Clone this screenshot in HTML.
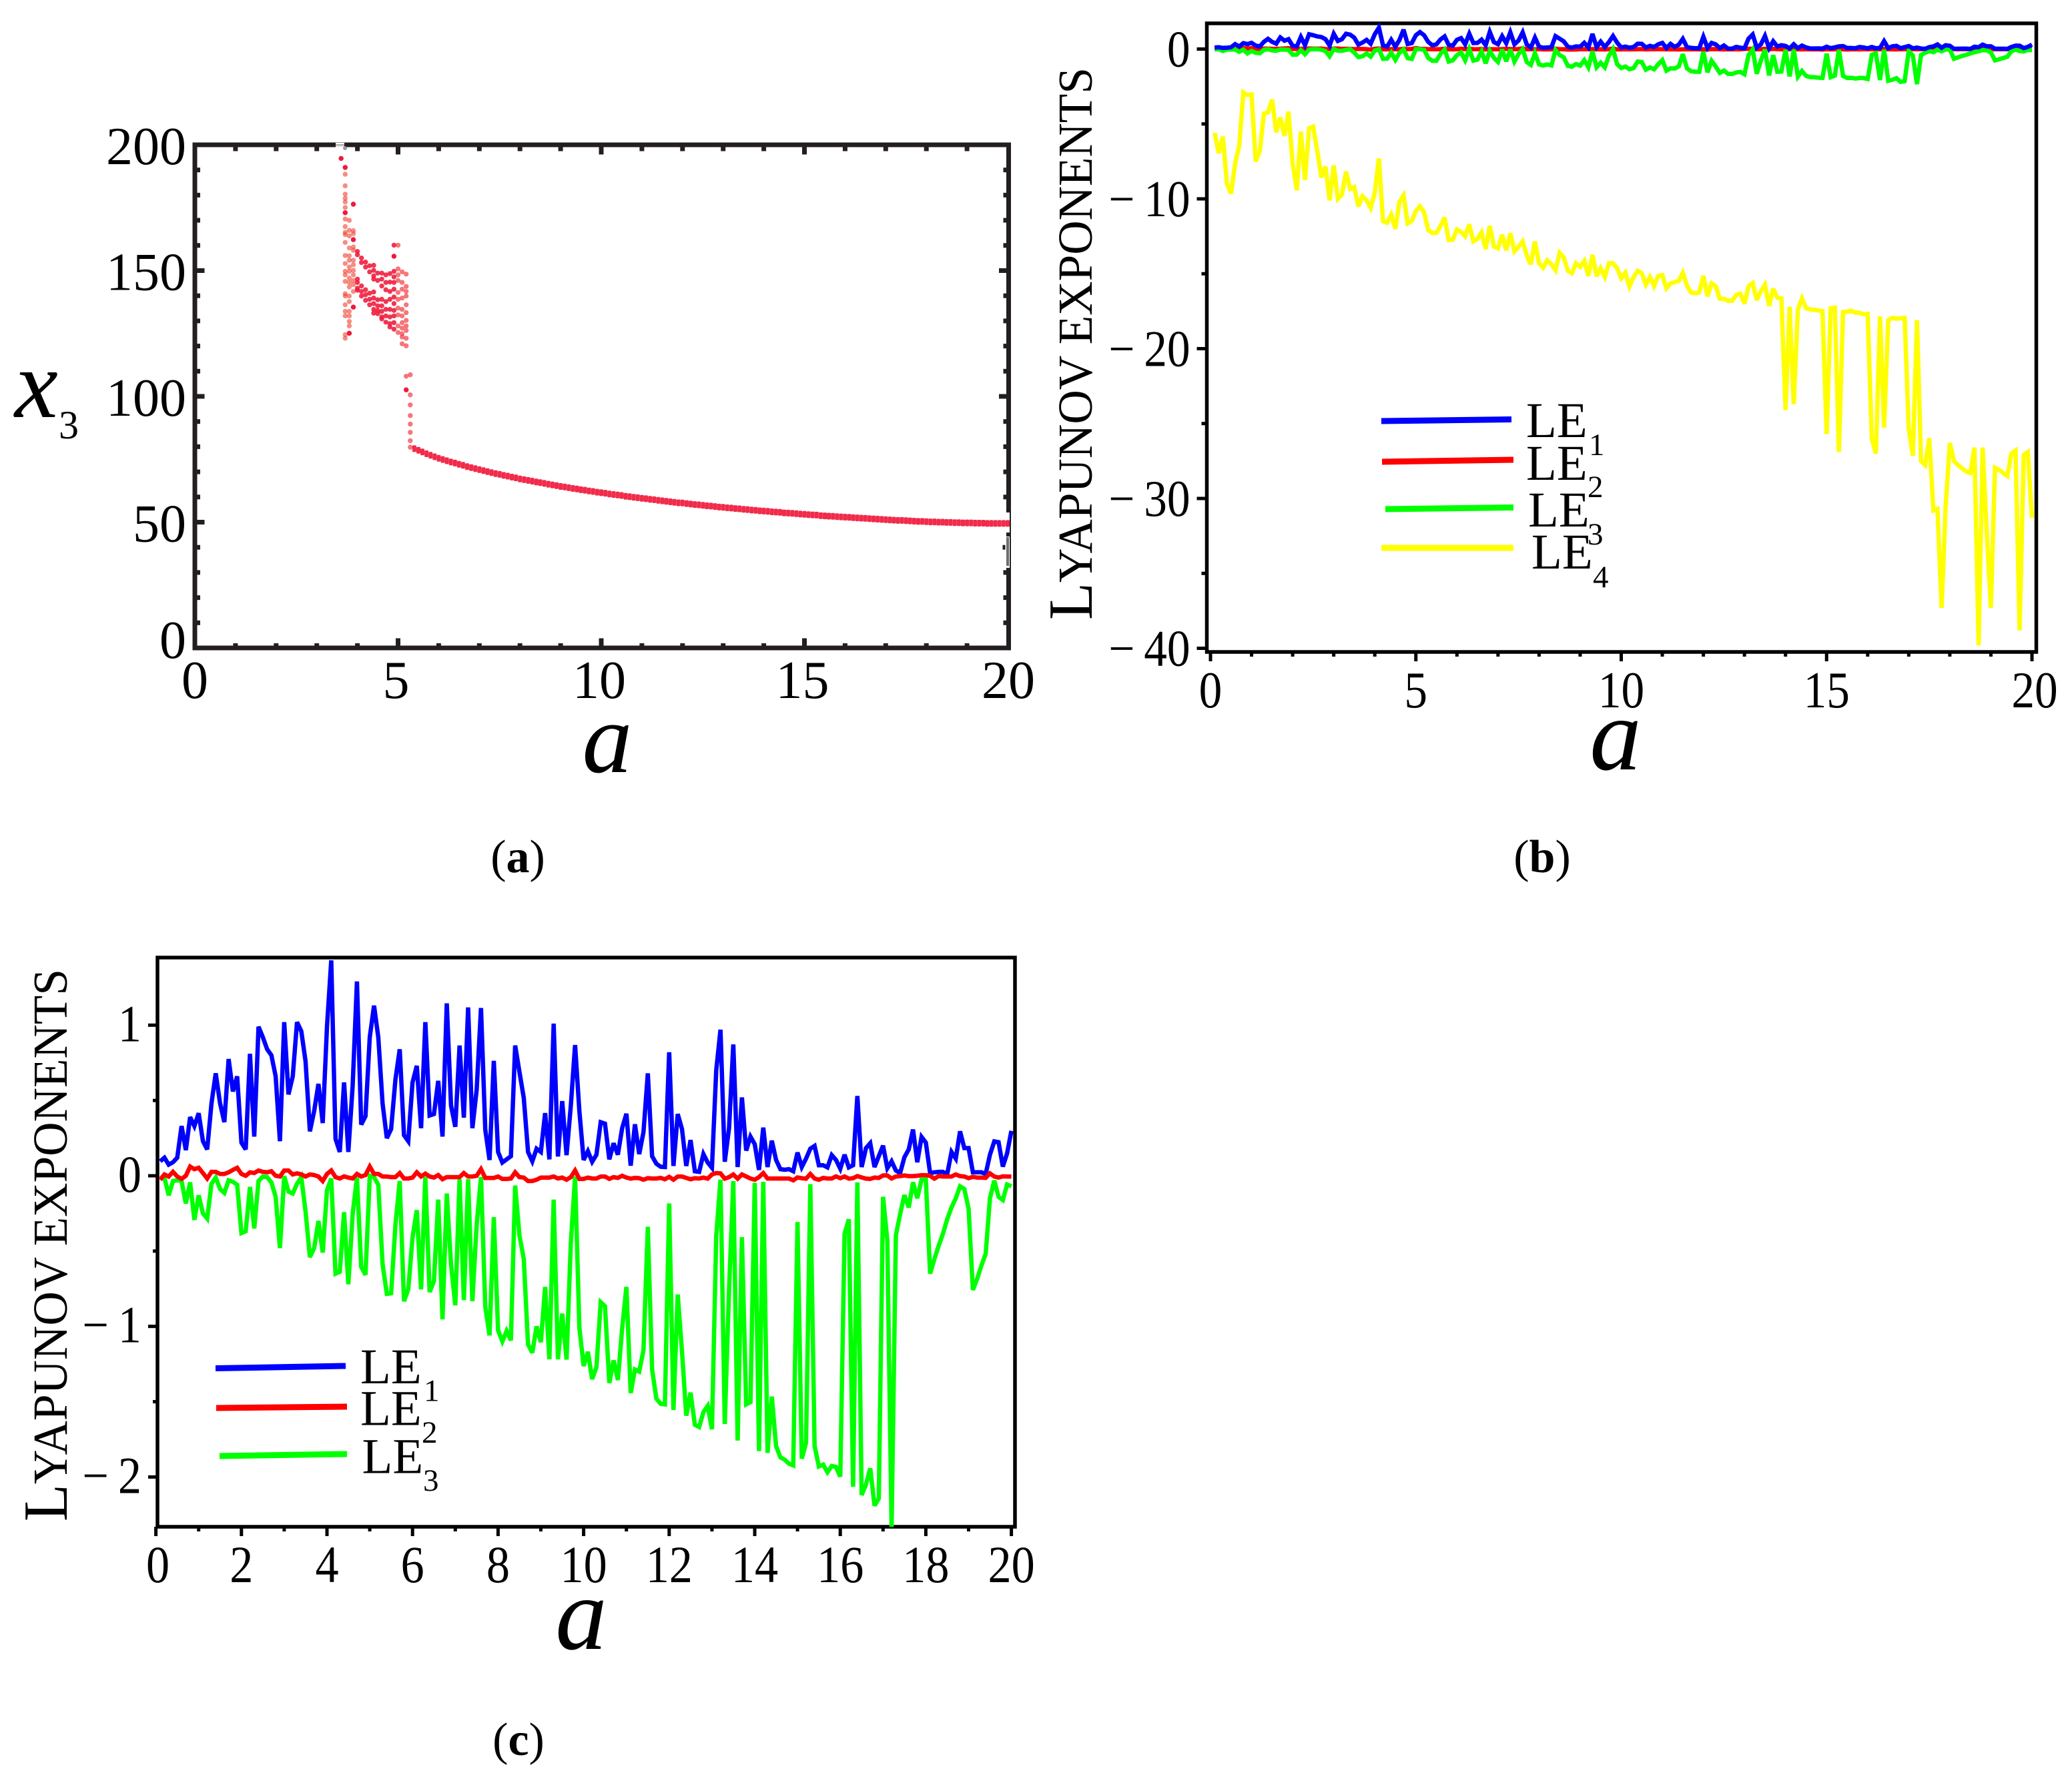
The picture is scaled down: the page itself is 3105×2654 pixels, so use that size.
<!DOCTYPE html>
<html lang="en">
<head>
<meta charset="utf-8">
<title>Bifurcation diagram and Lyapunov exponents</title>
<style>
html,body{margin:0;padding:0;background:#fff;}
svg{display:block;font-family:"Liberation Serif","Noto Serif CJK SC",serif;}
text{fill:#000;}
</style>
</head>
<body>
<svg id="figure" xmlns="http://www.w3.org/2000/svg" width="3105" height="2654" viewBox="0 0 3105 2654">
<rect x="0" y="0" width="3105" height="2654" fill="#fff"/>
<defs><clipPath id="plot-c-clip"><rect x="233" y="1435" width="1288" height="853"/></clipPath></defs>

<g id="panel-a"></g>
<g id="panel-b"></g>
<g id="panel-c"></g>

<!-- Panel (a) titles -->
<text transform="translate(910,1157)" font-size="150" font-style="italic" text-anchor="middle">a</text>
<text x="22" y="625" font-size="146" font-style="italic">x</text>
<text x="88" y="657" font-size="60">3</text>
<text x="776" y="1307" font-size="70" text-anchor="middle">(<tspan font-weight="bold">a</tspan>)</text>

<!-- Panel (b) titles -->
<text transform="translate(2421,1153)" font-size="155" font-style="italic" text-anchor="middle">a</text>
<text transform="translate(1636,929) rotate(-90)" textLength="828" lengthAdjust="spacingAndGlyphs"><tspan font-size="94">L</tspan><tspan font-size="73">YAPUNOV EXPONENTS</tspan></text>
<text x="2311" y="1307" font-size="70" text-anchor="middle">(<tspan font-weight="bold">b</tspan>)</text>

<!-- Panel (b) legend -->
<g>
  <line x1="2070" y1="631" x2="2265" y2="628.5" stroke="#0000ff" stroke-width="9"/>
  <line x1="2071" y1="692" x2="2268" y2="689" stroke="#ff0000" stroke-width="9"/>
  <line x1="2076" y1="763" x2="2268" y2="760.5" stroke="#00ff00" stroke-width="9"/>
  <line x1="2070" y1="821" x2="2268" y2="821" stroke="#ffff00" stroke-width="9"/>
  <text x="2287" y="655" font-size="75">LE</text>
  <text x="2381" y="682" font-size="47">1</text>
  <text x="2287" y="719" font-size="75">LE</text>
  <text x="2379" y="745" font-size="47">2</text>
  <text x="2290" y="789" font-size="75">LE</text>
  <text x="2379" y="816" font-size="47">3</text>
  <text x="2295" y="852" font-size="75">LE</text>
  <text x="2387" y="880" font-size="47">4</text>
</g>

<!-- Panel (c) titles -->
<text transform="translate(871,2471)" font-size="155" font-style="italic" text-anchor="middle">a</text>
<text transform="translate(100,2280) rotate(-90)" textLength="828" lengthAdjust="spacingAndGlyphs"><tspan font-size="94">L</tspan><tspan font-size="73">YAPUNOV EXPONENTS</tspan></text>
<text x="777" y="2630" font-size="70" text-anchor="middle">(<tspan font-weight="bold">c</tspan>)</text>

<!-- Panel (c) legend -->
<g>
  <line x1="323" y1="2050.5" x2="518" y2="2047" stroke="#0000ff" stroke-width="9"/>
  <line x1="324" y1="2110" x2="520" y2="2108" stroke="#ff0000" stroke-width="9"/>
  <line x1="329" y1="2182" x2="520" y2="2179" stroke="#00ff00" stroke-width="9"/>
  <text x="540" y="2073" font-size="75">LE</text>
  <text x="635" y="2099.5" font-size="47">1</text>
  <text x="540" y="2135.5" font-size="75">LE</text>
  <text x="632" y="2162" font-size="47">2</text>
  <text x="542.5" y="2207.5" font-size="75">LE</text>
  <text x="634" y="2234" font-size="47">3</text>
</g>
</svg>

<script>
/* ---------- Panel (a) data: bifurcation diagram ---------- */
var bifurcationA = [3.7,3.8,3.9,4.0,4.1,4.2,4.3,4.4,4.5,4.6,4.7,4.8,4.9,5.0,5.1,5.2,5.3];
var bifurcationX3 = [
 [191,188.3,183.7,180.4,178.7,177.3,175.1,173,170.5,167.5,165.2,164.3,161.2,156,152.8,149.7,148.3,145.7,140.8,139.9,136.4,133.8,132,124.5,123.1],
 [170,166,163.8,159,155.9,154.1,151.4,149.7,147,145.3,143.5,139.9,137.7,133.8,132,129.8,128,125.1],
 [176.4,165.9,164.7,162.3,159.4,158.1,154.1,152.3,150.1,148.3,146.1,144.4,141.7,135.5],
 [157.6,156.3,146.6,145.3,143,142.2],
 [155,153.2,143.9,141.7,139.9],
 [153.4,151.4,142.4,140.4,138.2],
 [151.9,149.5,141,138.6,136.4],
 [152.1,150.1,147.9,146.6,141.5,139.1,136.9,134.6,133.1],
 [149,146.1,138.4,136,134.2,132.9],
 [149,146.6,143.9,138.6,136,133.8,131.6,130.8],
 [148.3,145.3,142.4,137.7,134.6,132,129.5],
 [148.8,145.4,141.7,138.6,134.6,131.6,128.9,127.6],
 [160.1,149.7,147.5,145.3,142.6,139.5,136.9,134.2,132,129.3,126.7],
 [160.1,150.7,148.3,146.1,141.3,138.6,135.1,132.4,128,125.4],
 [149.5,145.3,142.6,139.1,134.6,132,129.3,127.1,124.9,123.6,120.9],
 [108,148.6,143.7,141.7,139.9,136.4,133.3,130.2,128,126.2,123.1,120.1],
 [108.6,100.6,96.6,92.4,89,85.7,82.4,79.8]
];
var isolatedA = [3.6,3.7,3.7,3.8,3.9,3.9,3.9,4.9,5.2];
var isolatedX3 = [194.6,191,173,125.1,176.4,162.3,135.5,155.7,102.6];
var branchStartA = 5.4;
var branchStepA = 0.1;
var branchX3 = [
 79.2,78.6,77.9,77.2,76.6,76.0,75.4,74.9,74.4,73.9,
 73.5,73.0,72.6,72.1,71.7,71.3,70.9,70.5,70.1,69.7,
 69.3,69.0,68.6,68.3,67.9,67.6,67.2,66.9,66.6,66.3,
 66.0,65.7,65.4,65.1,64.8,64.5,64.2,64.0,63.7,63.4,
 63.2,62.9,62.7,62.4,62.2,61.9,61.7,61.5,61.2,61.0,
 60.8,60.6,60.3,60.1,59.9,59.7,59.5,59.3,59.1,58.9,
 58.7,58.5,58.3,58.1,57.9,57.7,57.6,57.4,57.2,57.0,
 56.9,56.7,56.5,56.4,56.2,56.0,55.9,55.7,55.6,55.4,
 55.3,55.1,55.0,54.8,54.7,54.5,54.4,54.3,54.1,54.0,
 53.9,53.7,53.6,53.5,53.4,53.2,53.1,53.0,52.9,52.8,
 52.6,52.5,52.4,52.3,52.2,52.1,52.0,51.9,51.8,51.7,
 51.6,51.5,51.4,51.3,51.2,51.1,51.0,50.9,50.8,50.7,
 50.7,50.6,50.5,50.4,50.3,50.3,50.2,50.1,50.1,50.0,
 50.0,49.9,49.9,49.8,49.8,49.7,49.7,49.7,49.6,49.6,
 49.6,49.5,49.5,49.5,49.5,49.5,49.5
];
var xTicksA = [0,5,10,15,20];
var yTicksA = [0,50,100,150,200];

/* ---------- Panels (b), (c) data: Lyapunov exponents, a = 0.1 ... 20.0 ---------- */
var lyapunovStepA = 0.1;
var le1 = [
 .096,.12,.074,.09,.12,.33,.17,.39,.33,.415,.23,.175,.48,.68,.48,.356,.775,.56,.66,.22,
 .175,.81,.26,.99,.92,.84,.80,.66,.23,1.02,.54,.66,1.02,.96,.76,.295,.43,.61,.35,.99,
 1.43,.245,.158,.62,.158,.6,1.29,.34,.395,.92,1.13,.92,.48,.25,.31,.64,.84,.27,.23,.62,
 .73,.316,1.02,.40,.41,.63,.26,1.145,.465,.325,.865,.386,1.118,.316,.57,1.114,.307,.105,.763,.158,
 .088,.109,.13,.865,.69,.517,.158,.096,.18,.158,.416,.109,1.01,.128,.496,.137,.465,.868,.43,.105,
 .163,.093,.14,.356,.346,.109,.216,.14,.316,.412,.067,.342,.144,.29,.68,.13,.08,.06,.058,.82,
 .065,.41,.31,.065,.237,.03,.026,.144,.088,.053,.70,.97,.093,.316,.872,.058,.52,.167,.26,.21,
 .039,.32,.058,.233,.105,.044,.04,.044,.03,.154,.058,.114,.18,.198,.07,.07,.056,.137,.105,.047,
 .14,.056,.07,.53,.058,.184,.216,.058,.13,.2,.05,.096,.035,.018,.123,.175,.307,.09,.258,.22,
 .018,.023,.026,.026,.01,.158,.114,.295,.184,.184,.023,.023,.023,.012,.14,.228,.223,.061,.149,.298
];
var le2 = [
 -.026,.009,-.005,.026,-.005,-.021,0,.061,.044,.053,.018,-.018,.026,.026,.012,.012,.023,.039,.053,.012,
 0,.023,.018,.035,.026,.023,.03,0,-.005,.035,.035,.009,.016,.009,-.005,.009,.005,-.005,-.035,.012,
 .035,-.009,-.018,-.004,-.012,-.018,.012,-.005,.005,.061,.012,.012,-.005,-.005,-.009,-.009,.018,-.018,-.018,-.012,
 .023,-.005,.014,-.005,-.012,.005,-.023,-.009,-.009,-.009,-.009,.018,-.005,-.005,0,.044,-.014,-.014,-.014,-.005,
 -.021,-.021,-.018,.023,-.009,-.012,-.035,-.035,-.026,-.012,-.012,-.012,-.005,-.018,-.012,-.026,-.009,.035,-.021,-.021,
 -.012,-.018,-.018,-.005,-.005,-.021,-.009,-.014,0,-.012,-.019,-.014,-.016,-.026,-.016,-.018,-.018,-.014,-.023,-.007,
 -.026,-.005,-.005,-.014,-.023,-.016,-.018,-.012,-.019,.009,.018,.016,-.019,-.009,.009,-.019,.009,-.005,-.018,-.026,
 -.009,.018,-.018,-.018,-.018,-.018,-.018,-.018,-.03,-.011,-.016,-.019,.012,-.018,-.026,-.014,-.018,-.018,-.004,-.016,
 -.005,-.019,-.016,-.002,-.011,-.019,-.021,-.012,-.014,.002,.002,-.018,-.005,-.002,.002,-.002,-.002,0,.004,.004,
 0,-.019,-.002,-.005,-.005,-.005,.009,-.002,-.005,-.016,-.007,-.012,-.012,-.014,.016,-.005,-.012,-.004,-.005,-.005
];
var le3 = [
 -.018,-.012,-.13,-.035,-.03,-.035,-.184,-.044,-.293,-.13,-.25,-.284,-.053,-.012,-.088,-.114,-.03,-.04,-.06,-.38,
 -.368,-.074,-.35,-.035,-.005,-.009,-.044,-.14,-.48,-.002,-.105,-.118,-.053,-.009,-.237,-.54,-.48,-.30,-.51,-.096,
 -.018,-.65,-.637,-.242,-.72,-.254,-.012,-.605,-.658,0,-.009,-.06,-.588,-.784,-.78,-.325,-.035,-.833,-.754,-.41,
 -.228,-.754,-.009,-.772,-.70,-.158,-.953,-.118,-.588,-.86,-.023,-.825,-.023,-.833,-.325,-.009,-.868,-1.06,-.275,-1.026,
 -1.1,-1.03,-1.093,-.065,-.395,-.553,-1.12,-1.175,-1.0,-1.105,-.738,-1.218,-.158,-1.218,-.915,-1.22,-.447,-.005,-1.008,-1.263,
 -1.169,-1.35,-1.27,-.839,-.866,-1.376,-1.226,-1.356,-1.016,-.738,-1.443,-1.286,-1.30,-1.158,-.339,-1.286,-1.48,-1.514,-1.518,-.184,
 -1.555,-.788,-1.166,-1.593,-1.44,-1.653,-1.668,-1.57,-1.528,-1.683,-.4,-.026,-1.648,-.76,-.035,-1.758,-.407,-1.518,-1.503,-.047,
 -1.828,-.04,-1.84,-1.466,-1.795,-1.87,-1.885,-1.912,-1.923,-.307,-1.878,-1.773,-.056,-1.795,-1.93,-1.918,-1.968,-1.927,-1.933,-1.998,
 -.386,-.289,-2.065,-.044,-2.12,-2.05,-1.943,-2.19,-2.143,-.14,-.43,-2.34,-.395,-.254,-.128,-.21,-.044,-.149,-.026,-.023,
 -.65,-.553,-.465,-.386,-.289,-.21,-.149,-.07,-.088,-.219,-.758,-.684,-.596,-.518,-.149,-.032,-.14,-.161,-.058,-.07
];
var le4 = [
 -5.59,-6.95,-5.85,-9.0,-9.65,-7.64,-6.44,-2.9,-3.07,-3.03,-7.5,-6.8,-4.31,-4.23,-3.38,-5.56,-4.57,-5.8,-4.18,-7.64,
 -9.43,-5.5,-8.75,-5.28,-5.17,-6.8,-8.57,-7.84,-10.1,-7.77,-10.0,-9.72,-8.18,-9.34,-9.22,-10.5,-9.82,-10.1,-10.6,-9.6,
 -7.3,-11.5,-11.6,-11.05,-12.0,-10.2,-9.77,-11.64,-11.47,-10.8,-10.5,-10.9,-12.07,-12.27,-12.27,-11.8,-11.25,-12.75,-12.72,-12.04,
 -12.2,-12.5,-11.7,-12.84,-12.67,-12.24,-13.35,-11.81,-13.18,-13.3,-12.4,-13.43,-12.3,-13.5,-13.2,-12.84,-13.77,-14.37,-12.84,-14.3,
 -14.6,-14.1,-14.37,-14.76,-13.6,-13.9,-14.8,-14.97,-14.3,-14.54,-14.15,-15.14,-13.74,-15.17,-14.63,-15.22,-14.3,-14.3,-14.63,-15.3,
 -14.93,-15.85,-15.22,-14.8,-14.97,-15.73,-15.22,-15.82,-15.14,-15.1,-15.96,-15.65,-15.56,-15.48,-14.93,-15.79,-16.25,-16.3,-16.25,-15.14,
 -16.5,-15.65,-15.82,-16.67,-16.67,-16.8,-16.8,-16.42,-16.33,-17.0,-15.82,-15.62,-16.76,-16.16,-15.73,-17.15,-16.0,-16.6,-16.64,-24.1,
 -17.2,-23.7,-17.4,-16.65,-17.3,-17.38,-17.4,-17.45,-17.5,-25.7,-17.3,-17.27,-26.9,-17.56,-17.54,-17.47,-17.6,-17.6,-17.7,-17.68,
 -26.0,-27.0,-17.84,-25.27,-18.1,-17.95,-18.0,-17.97,-17.95,-25.3,-27.15,-18.1,-27.5,-27.77,-25.97,-30.8,-30.7,-37.3,-30.5,-26.3,
 -27.5,-27.77,-28.0,-28.2,-28.3,-26.6,-39.8,-26.6,-32.3,-37.3,-27.95,-28.1,-28.3,-28.5,-27.0,-26.8,-38.8,-27.1,-26.9,-31.3
];
var xTicksB = [0,5,10,15,20];
var yTicksB = [0,-10,-20,-30,-40];
var xTicksC = [0,2,4,6,8,10,12,14,16,18,20];
var yTicksC = [1,0,-1,-2];

/* ---------- Axis functions ---------- */
function xA(a){return 292+60.9*a;}
function yA(v){return 971-3.77*v;}
function xB(a){return 1814+61.55*a;}
function yB(v){return 73.5-22.45*v;}
function xC(a){return 233.6+64.1*a;}
function yC(v){return 1762-225.7*v;}

/* ---------- Helpers ---------- */
var NS = 'http://www.w3.org/2000/svg';
function mk(parent, tag, attrs, name){
  var el = document.createElementNS(NS, tag);
  for (var k in attrs) { el.setAttribute(k, attrs[k]); }
  
  
  parent.appendChild(el);
  return el;
}
function label(parent, x, y, str, size, anchor, sx, name){
  var t = mk(parent, 'text', {transform:'translate('+x+','+y+') scale('+sx+',1)', 'font-size':size, 'text-anchor':anchor}, name);
  t.textContent = str;
  return t;
}
function fmt(v){ return v < 0 ? '\u2212\u2009' + Math.abs(v) : String(v); }
function hline(parent, x1, x2, y, w, c, name){ return mk(parent,'line',{x1:x1,x2:x2,y1:y,y2:y,stroke:c,'stroke-width':w},name); }
function vline(parent, x, y1, y2, w, c, name){ return mk(parent,'line',{x1:x,x2:x,y1:y1,y2:y2,stroke:c,'stroke-width':w},name); }
function seriesPath(parent, values, xf, yf, color, width, name, clip){
  var d = '';
  for (var i = 0; i < values.length; i++) {
    d += (i ? 'L' : 'M') + xf((i+1)*lyapunovStepA).toFixed(1) + ' ' + yf(values[i]).toFixed(1);
  }
  var attrs = {d:d, fill:'none', stroke:color, 'stroke-width':width, 'stroke-linejoin':'miter', 'stroke-miterlimit':'3'};
  if (clip) { attrs['clip-path'] = 'url(#'+clip+')'; }
  return mk(parent,'path',attrs,name);
}

/* ---------- Panel (a) ---------- */
(function(){
  var g = document.getElementById('panel-a');
  var c = '#231f20';
  var left = 292, right = 1511.5, top = 217, bottom = 971;
  var i, a, v;
  for (a = 0; a <= 20; a++) {
    var maj = a % 5 === 0;
    if (a > 0 && a < 20) {
      vline(g, xA(a), top, top + (maj ? 14.5 : 9.5), 7, c, 'x-tick-top-a');
      vline(g, xA(a), bottom - (maj ? 14.5 : 7), bottom, 7, c, 'x-tick-bottom-a');
    }
  }
  for (v = 0; v <= 200; v += 10) {
    var majY = v % 50 === 0;
    var lenY = majY ? 14.5 : 8;
    if (v > 0 && v < 200) {
      hline(g, left, left+lenY, yA(v), 7, c, 'y-tick-left-a');
      if (v !== 50 && v !== 40) { hline(g, right-lenY, right, yA(v), 7, c, 'y-tick-right-a'); }
    }
  }
  hline(g, left-3.5, right+3.5, top, 7, c, 'frame-top-a');
  hline(g, left-3.5, right+3.5, bottom, 7, c, 'frame-bottom-a');
  vline(g, left, top, bottom, 7, c, 'frame-left-a');
  vline(g, right, top, 768, 7, c, 'frame-right-upper-a');
  vline(g, right, 851, bottom, 7, c, 'frame-right-lower-a');
  vline(g, right, 798, 804, 7, c, 'frame-right-fragment-a');
  vline(g, right+2.5, 768, 851, 2, c, 'frame-right-thin-a');
  vline(g, right-1.5, 805, 848, 4, '#6f6c6d', 'frame-right-gray-a');
  hline(g, right-9, right-5, yA(40), 7, c, 'y-tick-right-40-a');

  /* top-frame break */
  mk(g,'rect',{x:503,y:214,width:13,height:7,fill:'#fff'},'frame-top-gap-a');
  hline(g, 503, 516, 216.5, 1, '#8d8a8b', 'frame-top-gap-line-a');
  hline(g, 503, 516, 218.5, 1, '#8d8a8b', 'frame-top-gap-line-a');
  mk(g,'circle',{cx:517,cy:222,r:3,fill:'#9a9798'},'gray-point-a');

  for (i = 0; i < bifurcationA.length; i++) {
    a = bifurcationA[i];
    var fill = a < 3.95 ? '#f03a2a' : (a < 4.95 ? '#ee1a3a' : '#f02c34');
    var op = a < 3.95 ? 0.58 : (a < 4.95 ? 0.88 : 0.65);
    for (var j = 0; j < bifurcationX3[i].length; j++) {
      mk(g,'circle',{cx:xA(a).toFixed(1),cy:yA(bifurcationX3[i][j]).toFixed(1),r:3.7,fill:fill,'fill-opacity':op},'bifurcation-point');
    }
  }
  for (i = 0; i < isolatedA.length; i++) {
    mk(g,'circle',{cx:xA(isolatedA[i]).toFixed(1),cy:yA(isolatedX3[i]).toFixed(1),r:3.7,fill:'#ee1a3a'},'bifurcation-point-strong');
  }
  for (i = 0; i < branchX3.length; i++) {
    a = branchStartA + i*branchStepA;
    mk(g,'rect',{x:(xA(a)-3).toFixed(1),y:(yA(branchX3[i])-5).toFixed(1),width:6,height:10,rx:1.5,fill:'#f0193c','fill-opacity':0.92},'periodic-branch-point');
  }

  for (i = 0; i < yTicksA.length; i++) {
    label(g, 279, yA(yTicksA[i])+ (yTicksA[i]===0?15:29), fmt(yTicksA[i]), 80, 'end', 1, 'y-tick-label-a');
  }
  for (i = 0; i < xTicksA.length; i++) {
    label(g, xA(xTicksA[i])+(xTicksA[i]===20?1:(xTicksA[i]===0?0:-3)), 1046, fmt(xTicksA[i]), 80, 'middle', 1, 'x-tick-label-a');
  }
})();

/* ---------- Panel (b) ---------- */
(function(){
  var g = document.getElementById('panel-b');
  var c = '#000';
  var left = 1808.5, right = 3051.5, top = 35, bottom = 977;
  var i, a, v;
  for (a = 0; a <= 20; a++) {
    vline(g, xB(a), bottom, bottom + (a%5===0 ? 14 : 7), 5, c, 'x-tick-b');
  }
  for (v = 0; v >= -40; v -= 5) {
    hline(g, left - (v%10===0 ? 15 : 8), left, yB(v), 5, c, 'y-tick-b');
  }
  mk(g,'rect',{x:left,y:top,width:right-left,height:bottom-top,fill:'none',stroke:c,'stroke-width':5.5},'plot-frame-b');
  seriesPath(g, le2, xB, yB, '#ff0000', 6.5, 'series-b-le2');
  seriesPath(g, le3, xB, yB, '#00ff00', 6.5, 'series-b-le3');
  seriesPath(g, le1, xB, yB, '#0000ff', 6.5, 'series-b-le1');
  seriesPath(g, le4, xB, yB, '#ffff00', 6.5, 'series-b-le4');
  for (i = 0; i < yTicksB.length; i++) {
    label(g, 1783.5, yB(yTicksB[i])+26, fmt(yTicksB[i]), 77, 'end', 0.9, 'y-tick-label-b');
  }
  for (i = 0; i < xTicksB.length; i++) {
    label(g, xB(xTicksB[i]) + (xTicksB[i]===20?4:0), 1060, fmt(xTicksB[i]), 77, 'middle', 0.9, 'x-tick-label-b');
  }
})();

/* ---------- Panel (c) ---------- */
(function(){
  var g = document.getElementById('panel-c');
  var c = '#000';
  var left = 236, right = 1521, top = 1435, bottom = 2288;
  var i, a, v;
  for (a = 0; a <= 20; a++) {
    vline(g, xC(a), bottom, bottom + (a%2===0 ? 14 : 7), 5, c, 'x-tick-c');
  }
  for (v = 1; v >= -2; v -= 0.5) {
    hline(g, left - (v%1===0 ? 14 : 7), left, yC(v), 5, c, 'y-tick-c');
  }
  mk(g,'rect',{x:left,y:top,width:right-left,height:bottom-top,fill:'none',stroke:c,'stroke-width':5.5},'plot-frame-c');
  seriesPath(g, le3, xC, yC, '#00ff00', 6.5, 'series-c-le3', 'plot-c-clip');
  seriesPath(g, le1, xC, yC, '#0000ff', 6.5, 'series-c-le1', 'plot-c-clip');
  seriesPath(g, le2, xC, yC, '#ff0000', 6.5, 'series-c-le2', 'plot-c-clip');
  for (i = 0; i < yTicksC.length; i++) {
    label(g, 212, yC(yTicksC[i])+24, fmt(yTicksC[i]), 78, 'end', 0.9, 'y-tick-label-c');
  }
  for (i = 0; i < xTicksC.length; i++) {
    label(g, xC(xTicksC[i]) + (xTicksC[i]===0?3:0), 2371, fmt(xTicksC[i]), 78, 'middle', 0.9, 'x-tick-label-c');
  }
})();
</script>
</body>
</html>
